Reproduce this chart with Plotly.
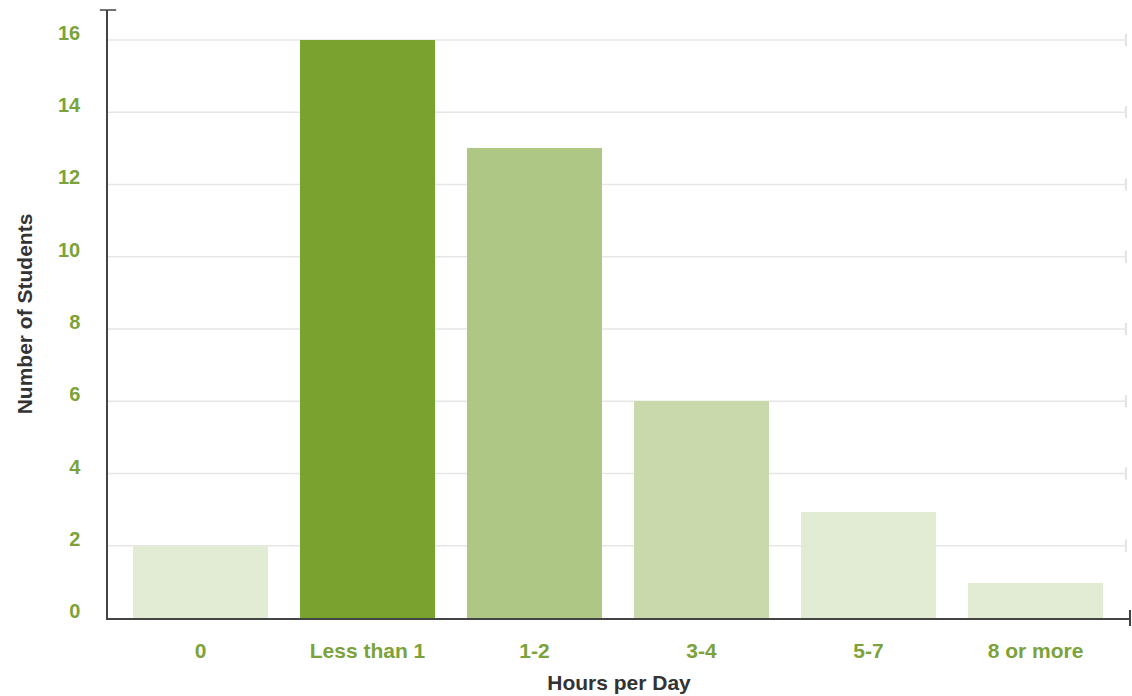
import plotly.graph_objects as go

# Survey: hours per day spent, number of students in each bucket
categories = ["0", "Less than 1", "1-2", "3-4", "5-7", "8 or more"]
students = [2, 16, 13, 6, 2.93, 0.98]
bar_colors = ["#e2ecd5", "#7aa22f", "#aec784", "#c9d9ac", "#e2ecd5", "#e2ecd5"]
y_ticks = [0, 2, 4, 6, 8, 10, 12, 14, 16]

green_text = "#7ba33a"
title_text = "#333333"
font_family = "Liberation Sans, Arial, Helvetica, sans-serif"

fig = go.Figure(
    go.Bar(
        x=categories,
        y=students,
        marker=dict(color=bar_colors, line=dict(width=0)),
        width=0.808,
        hoverinfo="x+y",
    )
)

# gridlines with small vertical caps at their right ends
for v in y_ticks[1:]:
    fig.add_shape(
        type="line", xref="paper", yref="y",
        x0=0.996, x1=0.996, y0=v - 0.17, y1=v + 0.17,
        line=dict(color="#e3e3e3", width=2), layer="below",
    )
    fig.add_shape(
        type="line", xref="paper", yref="y",
        x0=0, x1=0.996, y0=v, y1=v,
        line=dict(color="#e6e6e6", width=1.5), layer="below",
    )

# axis end caps
fig.add_shape(type="line", xref="paper", yref="paper", x0=-0.008, x1=0.008, y0=1, y1=1,
              line=dict(color="#444444", width=1.5))
fig.add_shape(type="line", xref="paper", yref="paper", x0=1, x1=1, y0=-0.013, y1=0.013,
              line=dict(color="#444444", width=2))

fig.update_layout(
    width=1132,
    height=696,
    margin=dict(l=108, r=2, t=10, b=78),
    paper_bgcolor="white",
    plot_bgcolor="white",
    showlegend=False,
    font=dict(family=font_family),
    bargap=0,
    xaxis=dict(
        range=[-0.554, 5.566],
        showgrid=False,
        showline=True,
        linecolor="#444444",
        linewidth=2,
        ticks="",
        tickfont=dict(size=21, color=green_text, family=font_family, weight="bold"),
        ticklabelstandoff=13,
        title=dict(text="<b>Hours per Day</b>", font=dict(size=21, color=title_text), standoff=14),
        fixedrange=True,
    ),
    yaxis=dict(
        range=[0, 16.83],
        tickvals=y_ticks,
        showgrid=False,
        zeroline=False,
        showline=True,
        linecolor="#444444",
        linewidth=1.5,
        ticks="",
        tickfont=dict(size=20, color=green_text, family=font_family, weight="bold"),
        ticklabelstandoff=22,
        ticklabelshift=-7,
        title=dict(text="<b>Number of Students</b>", font=dict(size=21, color=title_text), standoff=20),
        fixedrange=True,
    ),
)

fig.write_html("out.html")
